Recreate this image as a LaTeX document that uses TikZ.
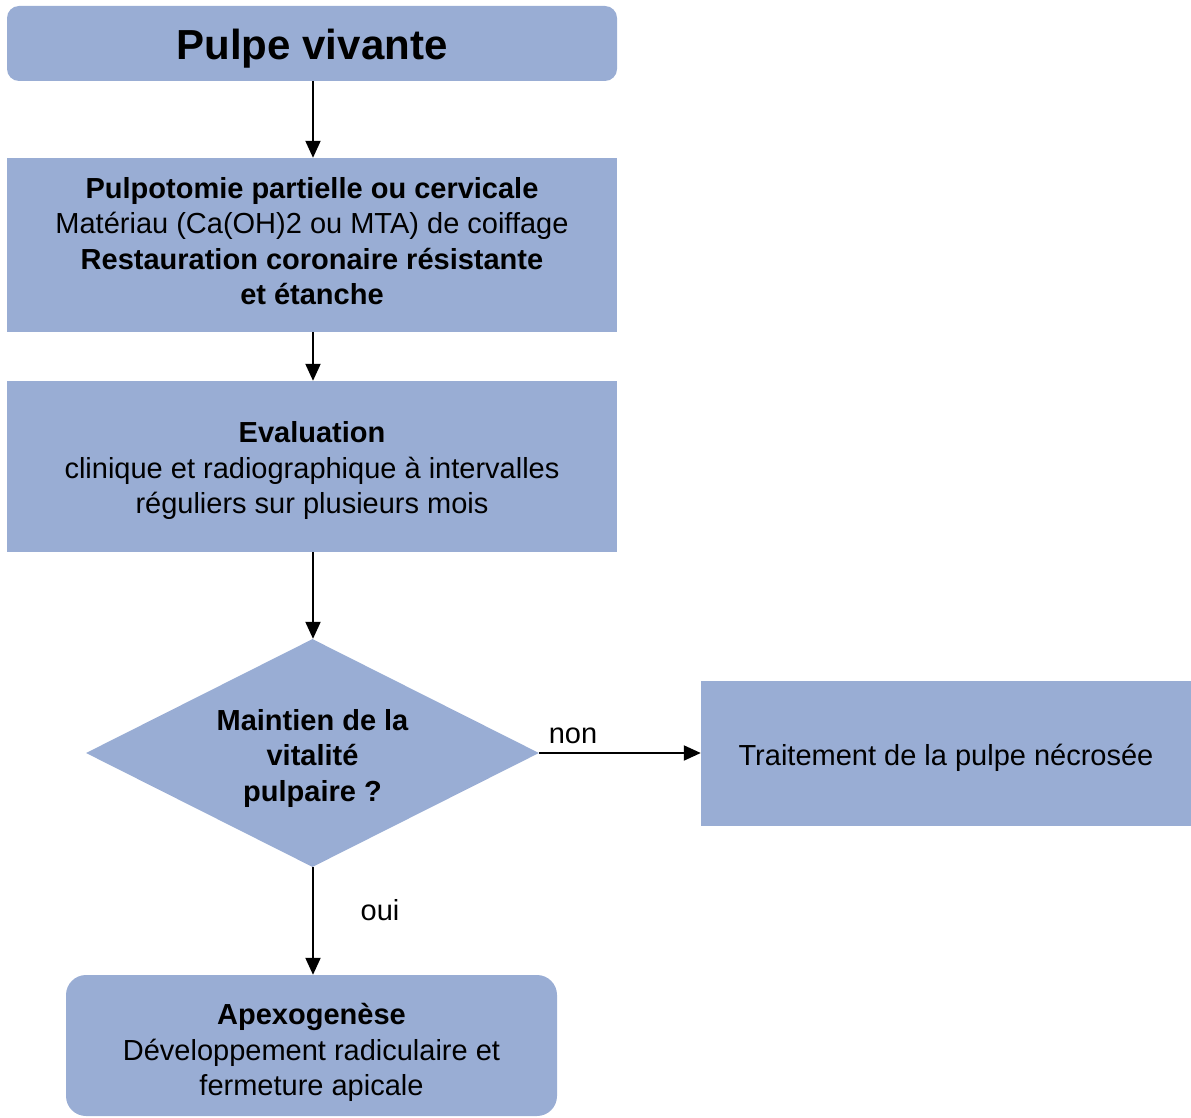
\documentclass[tikz,border=0pt]{standalone}
\usepackage{fontspec}
\setmainfont{Liberation Sans}
\usetikzlibrary{shapes.geometric,arrows.meta}
\definecolor{boxblue}{RGB}{153,173,212}
\begin{document}
\begin{tikzpicture}[x=1pt,y=-1pt,
  boxbase/.style={fill=boxblue,draw=none,inner sep=0pt},
  txt/.style={inner sep=0pt,align=center,font=\fontsize{29}{35.5}\selectfont},
  flowarrow/.style={line width=2pt,-{Triangle[width=15pt,length=17pt]}},
  lbl/.style={font=\fontsize{29}{35.5}\selectfont,inner sep=0pt}]
\useasboundingbox (0,0) rectangle (1191,1118);
\node[boxbase,rounded corners=12pt,minimum width=610pt,minimum height=75pt] (b1) at (312,43.5) {};
\node[txt,font=\fontsize{42}{48}\selectfont\bfseries] (t1) at (312,48.5) {Pulpe vivante};
\node[boxbase,minimum width=610pt,minimum height=174pt] (b2) at (312,245) {};
\node[txt] (t2) at (312,241)
  {\textbf{Pulpotomie partielle ou cervicale}\\
   Matériau (Ca(OH)2 ou MTA) de coiffage\\
   \textbf{Restauration coronaire résistante}\\
   \textbf{et étanche}};
\node[boxbase,minimum width=610pt,minimum height=171pt] (b3) at (312,466.5) {};
\node[txt] (t3) at (312,470.5)
  {\textbf{Evaluation}\\
   clinique et radiographique à intervalles\\
   réguliers sur plusieurs mois};
\node[boxbase,shape=diamond,aspect=2,minimum width=453pt,minimum height=228pt] (d) at (312.5,753) {};
\node[txt,font=\fontsize{29}{35.5}\selectfont\bfseries] (td) at (312.5,758)
  {Maintien de la\\ vitalité\\ pulpaire ?};
\node[boxbase,minimum width=490pt,minimum height=145pt] (b4) at (946,753.5) {};
\node[txt] (t4) at (946,757.5) {Traitement de la pulpe nécrosée};
\node[boxbase,rounded corners=20pt,minimum width=491pt,minimum height=141pt] (b5) at (311.5,1045.5) {};
\node[txt] (t5) at (311.5,1052.5)
  {\textbf{Apexogenèse}\\
   Développement radiculaire et\\
   fermeture apicale};
\draw[flowarrow] (b1.south -| 313,0) -- (b2.north -| 313,0);
\draw[flowarrow] (b2.south -| 313,0) -- (b3.north -| 313,0);
\draw[flowarrow] (b3.south -| 313,0) -- (d.north -| 313,0);
\draw[flowarrow] (d.east) -- (b4.west |- d.east);
\draw[flowarrow] (d.south -| 313,0) -- (b5.north -| 313,0);
\node[lbl] (non) at (573,736) {non};
\node[lbl] (oui) at (380,910) {oui};
\end{tikzpicture}
\end{document}
